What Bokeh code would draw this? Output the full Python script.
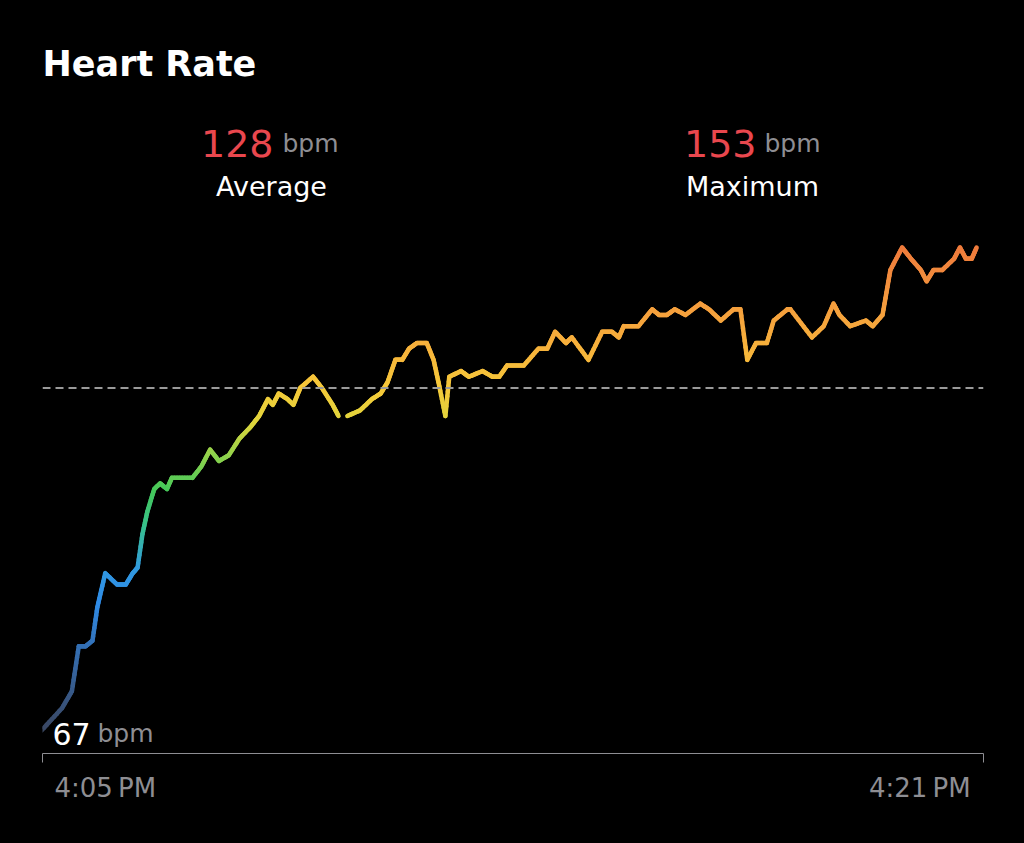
import math
import re
import numpy as np
from bokeh.plotting import figure
from bokeh.models import Range1d, FixedTicker, Span, Label, LinearAxis
from bokeh.embed import file_html
from bokeh.resources import INLINE

# ---- data ----
# seconds after 4:05:00 PM
time_s = [-1, 20, 30, 37, 44, 51, 56, 64, 76, 85, 92, 97, 102, 107, 114, 120, 127, 132,
          153, 162, 171, 180, 190, 201, 212, 221, 230, 235, 241, 250, 256, 263, 276, 285,
          296, 302, 306, 311, 324, 336, 345, 352, 360, 367, 374, 382, 392, 399, 404, 411,
          415, 427, 435, 449, 459, 466, 474, 491, 506, 515, 523, 534, 540, 557, 571, 581,
          588, 593, 608, 622, 629, 637, 645, 656, 671, 680, 692, 705, 712, 719, 728, 739,
          746, 760, 763, 785, 797, 807, 813, 824, 840, 847, 857, 865, 877, 886, 896, 902,
          909, 918, 930, 936, 942, 948, 953]
nan = float("nan")
bpm = [67, 71, 74, 82, 82, 83, 89, 95, 93, 93, 95, 96, 102, 106, 110, 111, 110, 112,
       112, 114, 117, 115, 116, 119, 121, 123, 126, 125, 127, 126, 125, 128, 130, 128,
       125, 123, nan, 123, 124, 126, 127, 129, 133, 133, 135, 136, 136, 133, 129, 123,
       130, 131, 130, 131, 130, 130, 132, 132, 135, 135, 138, 136, 137, 133, 138, 138,
       137, 139, 139, 142, 141, 141, 142, 141, 143, 142, 140, 142, 142, 133, 136, 136,
       140, 142, 142, 137, 139, 143, 141, 139, 140, 139, 141, 149, 153, 151, 149, 147,
       149, 149, 151, 153, 151, 151, 153]

avg_bpm = 128
max_bpm = 153
min_bpm = 67
x_tick_values = [0, 960]                 # 4:05 PM and 4:21 PM, in seconds
x_label_anchor = [64, 895]               # where the two time labels sit
x_tick_labels = ["4:05\u2009PM", "4:21\u2009PM"]
title_text = "Heart Rate"

# colour stops of the heart-rate gradient (bpm -> colour)
stop_bpm = [67, 80, 90, 96, 104, 110, 116, 122, 128, 136, 144, 153]
stop_col = ["#3a4660", "#3569a8", "#2f8be6", "#3199e0", "#38c28a", "#45c85a",
            "#8fd24c", "#e0d63c", "#f6c93a", "#f7b03c", "#f49a3e", "#ef7b3c"]

def hex2rgb(h):
    h = h.lstrip("#")
    return [int(h[i:i + 2], 16) for i in (0, 2, 4)]

stop_rgb = np.array([hex2rgb(c) for c in stop_col], dtype=float)

def colour_for(v):
    r = np.interp(v, stop_bpm, stop_rgb[:, 0])
    g = np.interp(v, stop_bpm, stop_rgb[:, 1])
    b = np.interp(v, stop_bpm, stop_rgb[:, 2])
    return "#%02x%02x%02x" % (int(round(r)), int(round(g)), int(round(b)))

# ---- figure ----
p = figure(width=1008, height=827,
           x_range=Range1d(0, 960), y_range=Range1d(62.905, 196.99),
           output_backend="svg", toolbar_location=None,
           background_fill_color="#000000", border_fill_color="#000000",
           outline_line_color=None, y_axis_location=None,
           min_border_left=42, min_border_right=25,
           min_border_top=0, min_border_bottom=74)
p.outline_line_color = None
p.xgrid.visible = False
p.ygrid.visible = False

GREY = "#8e8e93"
FONT = "DejaVu Sans"

ax = p.xaxis[0]
ax.ticker = FixedTicker(ticks=x_tick_values)
ax.major_label_overrides = {t: "" for t in x_tick_values}
ax.major_label_text_font_size = "1px"
ax.major_label_standoff = 0
ax.axis_line_color = GREY
ax.axis_line_width = 1
ax.major_tick_line_color = GREY
ax.major_tick_in = 0
ax.major_tick_out = 9
ax.minor_tick_line_color = None

lab_axis = LinearAxis(ticker=FixedTicker(ticks=x_label_anchor),
                      major_label_overrides={x_label_anchor[0]: x_tick_labels[0],
                                             x_label_anchor[1]: x_tick_labels[1]},
                      axis_line_color=None, major_tick_line_color=None,
                      minor_tick_line_color=None, major_tick_in=0, major_tick_out=0,
                      major_label_standoff=10,
                      major_label_text_font=FONT, major_label_text_font_size="26px",
                      major_label_text_color=GREY)
p.add_layout(lab_axis, "below")

# average dashed line
p.add_layout(Span(location=avg_bpm, dimension="width", line_color="#9a9a9a",
                  line_width=2, line_dash="8 5"))

# gradient line: each data segment split into short pieces coloured by value
xs, ys, cols = [], [], []
pieces = 8
for i in range(len(time_s) - 1):
    a, b = bpm[i], bpm[i + 1]
    if math.isnan(a) or math.isnan(b):
        continue
    t0, t1 = time_s[i], time_s[i + 1]
    for k in range(pieces):
        f0, f1 = k / pieces, (k + 1) / pieces
        xs.append([t0 + (t1 - t0) * f0, t0 + (t1 - t0) * f1])
        ys.append([a + (b - a) * f0, a + (b - a) * f1])
        cols.append(colour_for(a + (b - a) * (f0 + f1) / 2))

p.multi_line(xs=xs, ys=ys, line_color=cols, line_width=4.5,
             line_cap="round", line_join="round")

RED = "#e9474e"

def lab(text, x, y, size, color, align="left", style="normal"):
    p.add_layout(Label(x=x, y=y, x_units="screen", y_units="screen", text=text,
                       text_font=FONT, text_font_size=f"{size}px",
                       text_color=color, text_align=align,
                       text_baseline="alphabetic", text_font_style=style))

lab(title_text, 0, 690, 35, "#ffffff", style="bold")

lab(str(avg_bpm), 231, 610, 38, RED, align="right")
lab("bpm", 240, 610, 25, GREY)
lab("Average", 229, 567, 27, "#ffffff", align="center")

lab(str(max_bpm), 714, 610, 38, RED, align="right")
lab("bpm", 722, 610, 25, GREY)
lab("Maximum", 710, 567, 27, "#ffffff", align="center")

lab(str(min_bpm), 10, 20, 30, "#ffffff")
lab("bpm", 55, 20, 25, GREY)

html = file_html(p, INLINE)
html = re.sub(r"<body([^>]*)>", r'<body\1 style="background-color:#000000;">', html, count=1)
html = html.replace("</head>", "<style>html,body{background:#000000;}</style></head>", 1)
open("out.html", "w").write(html)
